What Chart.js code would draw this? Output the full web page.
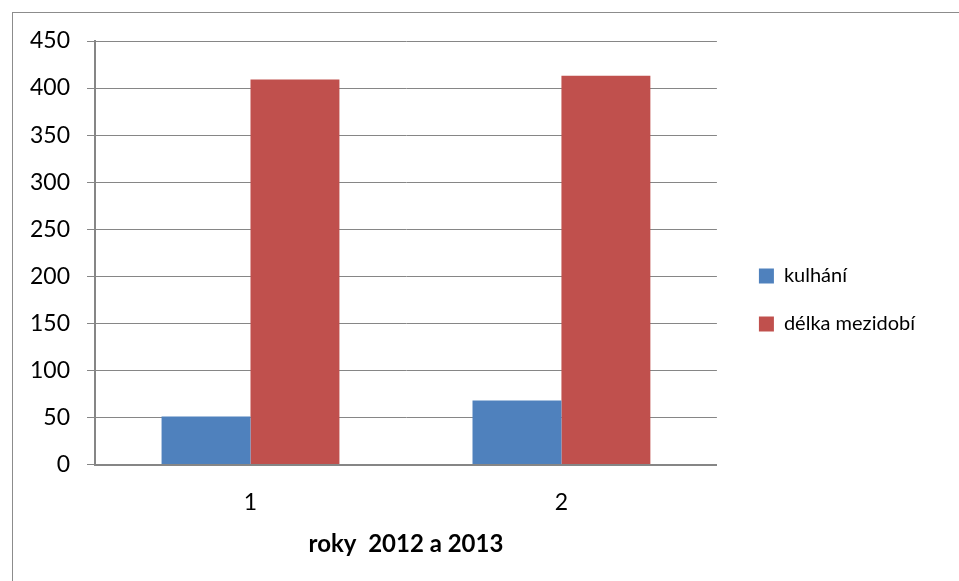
<!DOCTYPE html>
<html>
<head>
<meta charset="utf-8">
<script src="https://cdn.jsdelivr.net/npm/chart.js@4"></script>
<style>
  body { margin: 0; background: #fff; }
  #frame { position: absolute; left: 12px; top: 12px; width: 1000px; height: 1000px;
           border-left: 1px solid #8c8c8c; border-top: 1px solid #8c8c8c; }
  #wrap { position: absolute; left: 0; top: 0; width: 959px; height: 581px; }
</style>
</head>
<body>
<div id="frame"></div>
<div id="wrap"><canvas id="myChart" width="959" height="581"></canvas></div>
<script>
var labels = ['1', '2']
var kulhani = [51, 68]
var delka = [409, 413]
var seriesNames = ['kulhání', 'délka mezidobí']
var barColors = ['#4F81BD', '#C0504D']

var font = "Lato, 'Liberation Sans', sans-serif"

// posune legendu kousek doprava
var legendShift = {
    id: 'legendShift',
    afterLayout: function (chart) {
        chart.legend.left += 14
        chart.legend.right += 14
    }
}

var myChart = new Chart("myChart", {
    type: "bar",
    data: {
        labels: labels,
        datasets: [{
            label: seriesNames[0],
            backgroundColor: barColors[0],
            data: kulhani
        }, {
            label: seriesNames[1],
            backgroundColor: barColors[1],
            data: delka
        }]
    },
    options: {
        responsive: false,
        animation: false,
        layout: { padding: { left: 13, top: 41, right: 48, bottom: 22 } },
        datasets: {
            bar: { barPercentage: 1, categoryPercentage: 0.572 }
        },
        plugins: {
            tooltip: { enabled: false },
            legend: {
                position: 'right',
                align: 'center',
                labels: {
                    boxWidth: 15,
                    boxHeight: 15,
                    padding: 28,
                    color: '#000',
                    font: { family: font, size: 20 }
                }
            }
        },
        scales: {
            x: {
                grid: { display: false, drawTicks: false },
                border: { color: '#868686', width: 2 },
                ticks: { color: '#000', padding: 24, font: { family: font, size: 23 } },
                title: {
                    display: true,
                    text: 'roky  2012 a 2013',
                    color: '#000',
                    padding: { top: -10, bottom: 0 },
                    font: { family: font, size: 24, weight: 'bold' }
                }
            },
            y: {
                min: 0,
                max: 450,
                ticks: { stepSize: 50, color: '#000', padding: 17, font: { family: font, size: 23 } },
                grid: { color: '#868686', tickLength: 8, drawTicks: true },
                border: { color: '#868686', width: 2 }
            }
        }
    },
    plugins: [legendShift]
});
</script>
</body>
</html>
